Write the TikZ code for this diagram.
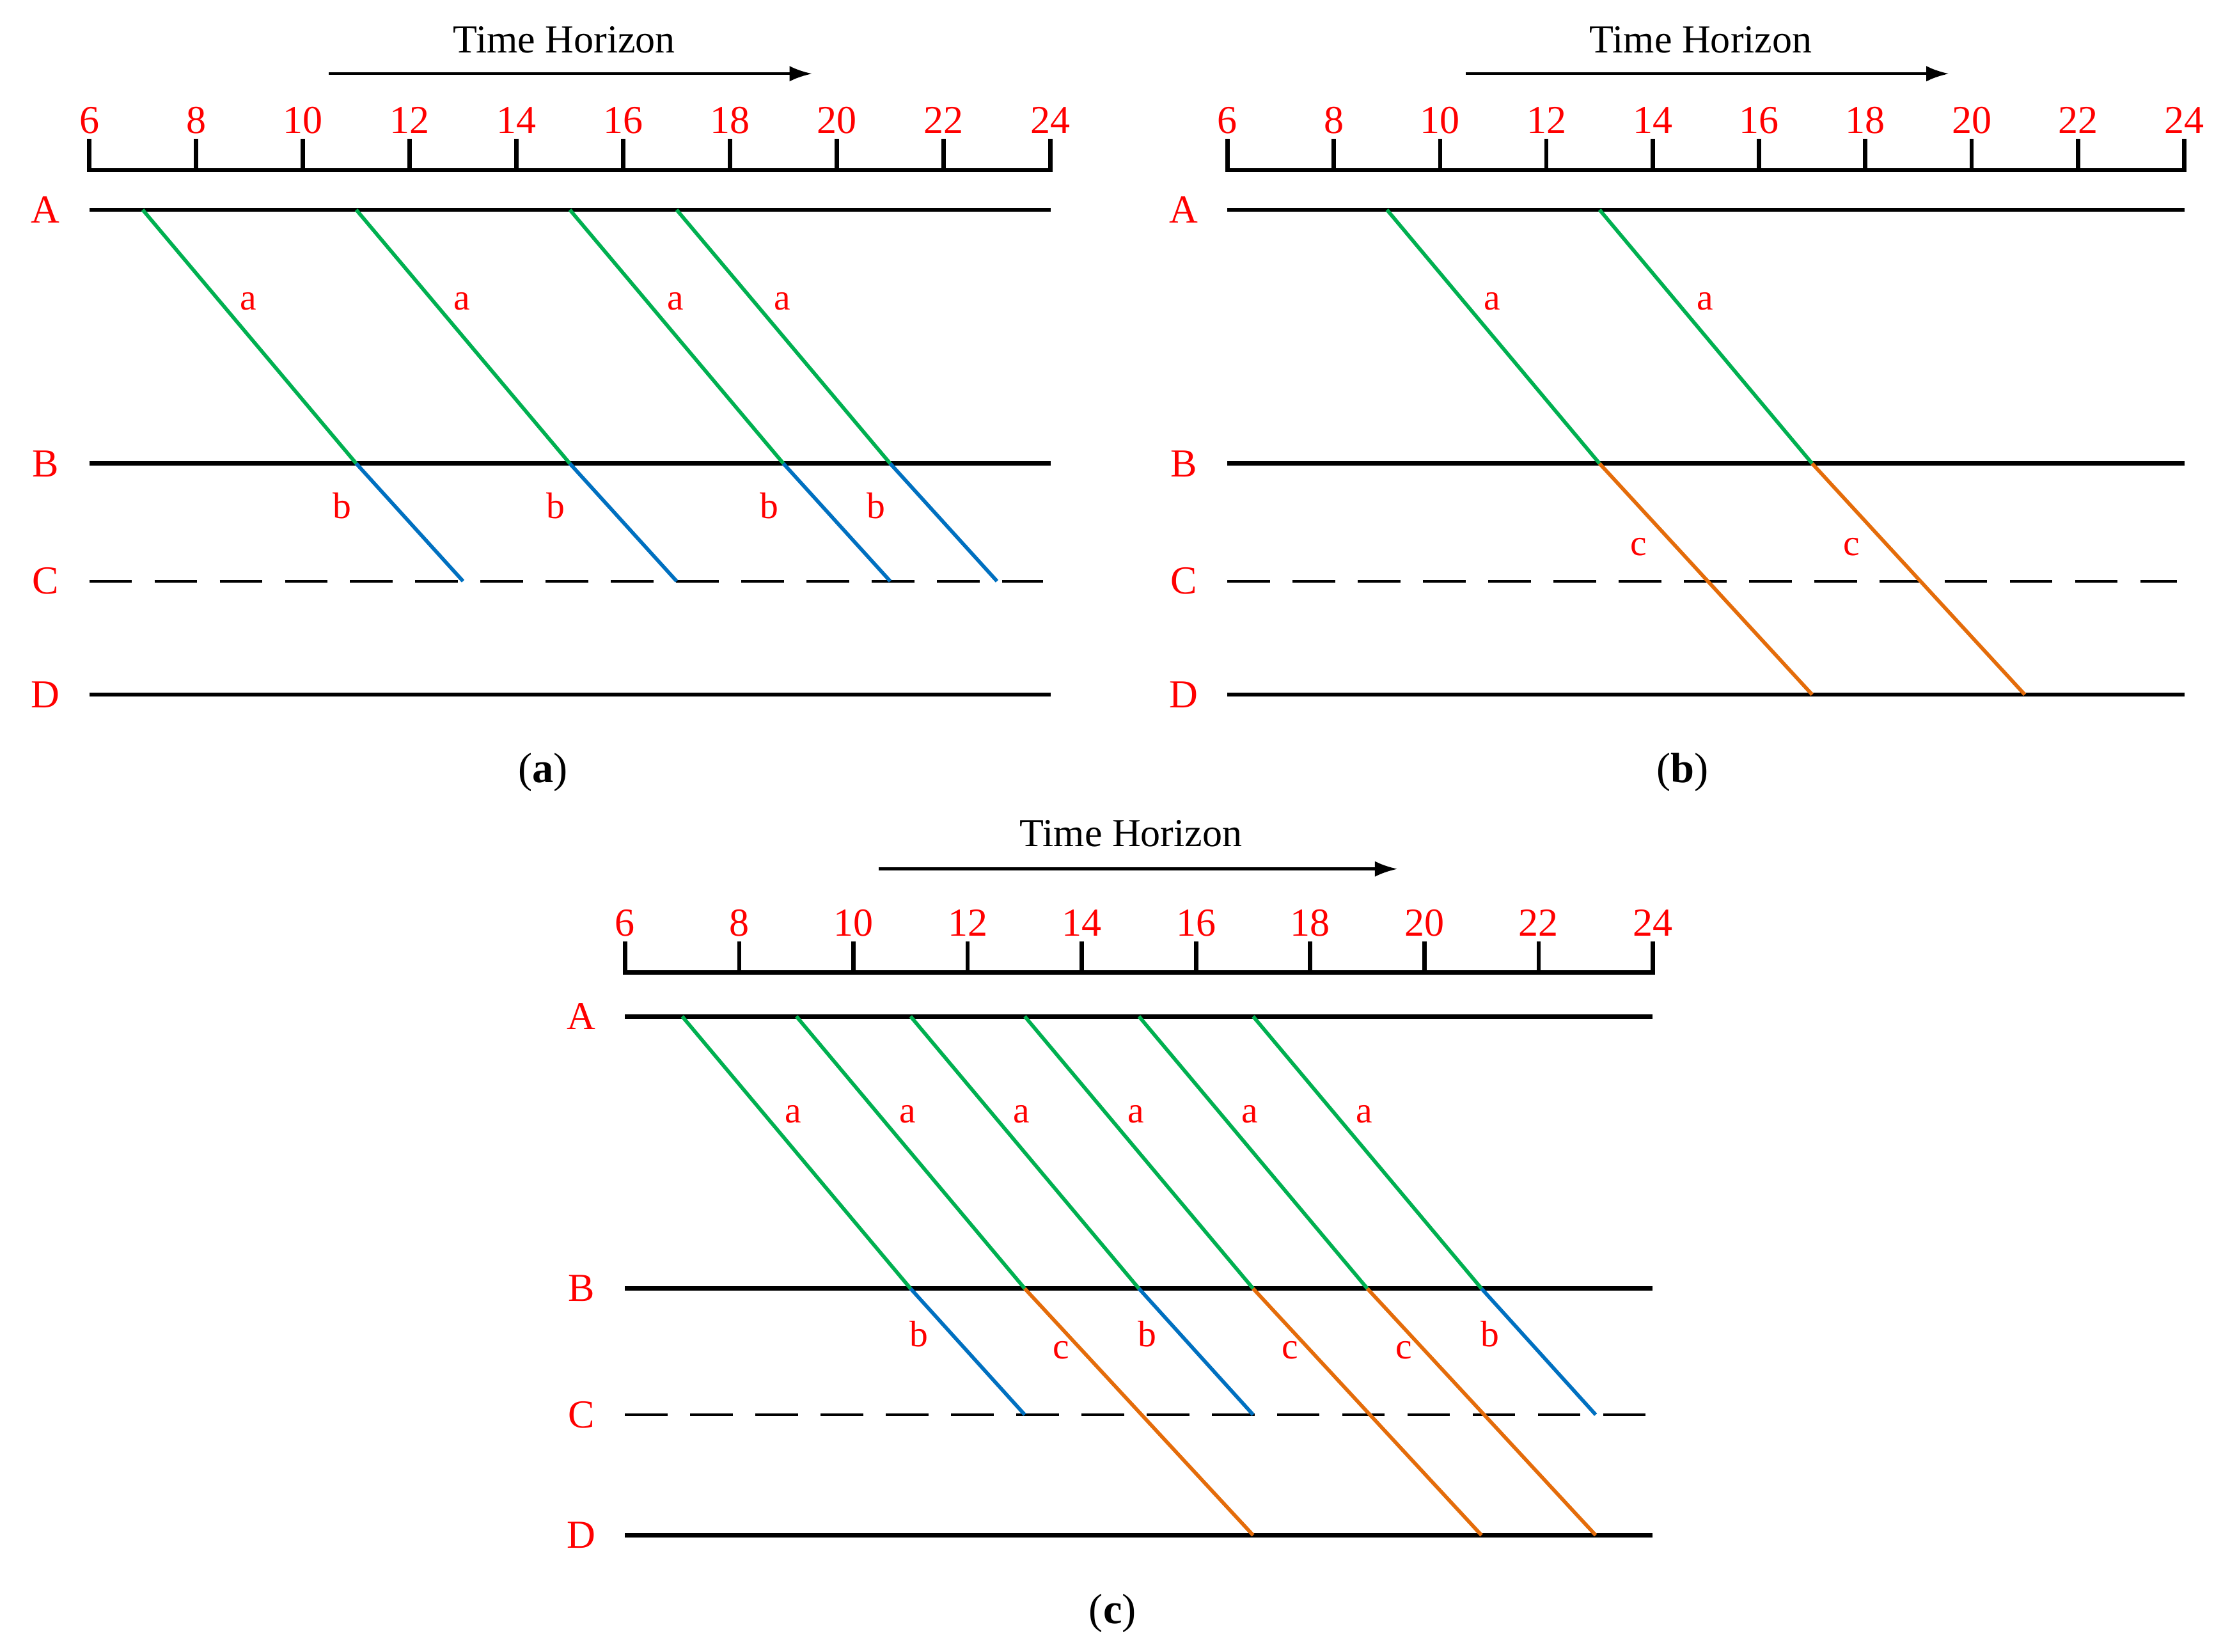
\documentclass[tikz,border=0pt]{standalone}
\usepackage{fontspec}
\setmainfont{Liberation Serif}
\usetikzlibrary{arrows.meta}
\definecolor{gr}{RGB}{0,176,80}
\definecolor{bl}{RGB}{0,112,192}
\definecolor{orr}{RGB}{228,108,10}
\tikzset{
 ln/.style={line width=3pt,black},
 dl/.style={line width=2pt,black,dash pattern=on 30pt off 16pt},
 red/.style={text=red,font=\fontsize{28}{32}\selectfont},
 lab/.style={text=red,font=\fontsize{26}{30}\selectfont},
 ga/.style={line width=2.6pt,gr},
 gb/.style={line width=2.6pt,bl},
 gc/.style={line width=2.6pt,orr},
 captn/.style={font=\fontsize{30}{34}\selectfont},
}
\newcommand\mypanel[8]{%
 \def\xo{#2}\def\ux{#3}%
 \draw[ln] (#2,#4-22) -- (#2,#4) -- ({#2+18*#3},#4) -- ({#2+18*#3},#4-22);
 \foreach \h in {6,8,...,24}{\draw[ln] ({#2+(\h-6)*#3},#4) -- ({#2+(\h-6)*#3},#4-22);
   \node[red] (#1t\h) at ({#2+(\h-6)*#3},#4-35) {\h};}
 \draw[ln] (#2,#5) -- ({#2+18*#3},#5);
 \draw[ln] (#2,#6) -- ({#2+18*#3},#6);
 \draw[dl] (#2,#7) -- ({#2+18*#3-5},#7);
 \draw[ln] (#2,#8) -- ({#2+18*#3},#8);
 \node[red] (#1A) at (#2-31,#5) {A};
 \node[red] (#1B) at (#2-31,#6) {B};
 \node[red] (#1C) at (#2-31,#7) {C};
 \node[red] (#1D) at (#2-31,#8) {D};
}
\newcommand\lk[7]{%
 \coordinate (p1) at ({\xo+(#2-6)*\ux},#3);
 \coordinate (p2) at ({\xo+(#4-6)*\ux},#5);
 \draw[#1] (p1) -- (p2) node[lab,pos=0.36,#7] {#6};
}
\begin{document}
\begin{tikzpicture}[x=1pt,y=-1pt]
\useasboundingbox (0,0) rectangle (1562,1165);
% (a)
\mypanel{a}{63}{37.67}{120}{148}{327}{410}{490}
\foreach \s in {7,11,15,17}{
 \pgfmathsetmacro\e{\s+4}\pgfmathsetmacro\f{\s+6}
 \lk{ga}{\s}{148}{\e}{327}{a}{right=10pt}
 \lk{gb}{\e}{327}{\f}{410}{b}{left=26pt}}
\node[font=\fontsize{28}{32}\selectfont] (ath) at (398,28) {Time Horizon};
\coordinate (aa1) at (232,52); \coordinate (aa2) at (573,52);
\draw[line width=2pt,-{Latex[length=16pt,width=11pt]}] (aa1) -- (aa2);
\node[captn] (acap) at (383,545) {(\textbf{a})};
% (b)
\mypanel{b}{866}{37.5}{120}{148}{327}{410}{490}
\foreach \s in {9,13}{
 \pgfmathsetmacro\e{\s+4}\pgfmathsetmacro\f{\s+8}
 \lk{ga}{\s}{148}{\e}{327}{a}{right=10pt}
 \draw[gc] ({\xo+(\e-6)*\ux},327) -- ({\xo+(\f-6)*\ux},490) node[lab,pos=0.36,left=16pt] {c};}
\node[font=\fontsize{28}{32}\selectfont] (bth) at (1200,28) {Time Horizon};
\coordinate (ba1) at (1034,52); \coordinate (ba2) at (1375,52);
\draw[line width=2pt,-{Latex[length=16pt,width=11pt]}] (ba1) -- (ba2);
\node[captn] (bcap) at (1187,545) {(\textbf{b})};
% (c)
\mypanel{c}{441}{40.28}{686}{717}{909}{998}{1083}
\foreach \s in {7,9,...,17}{
 \pgfmathsetmacro\e{\s+4}
 \lk{ga}{\s}{717}{\e}{909}{a}{right=10pt}}
\lk{gb}{11}{909}{13}{998}{b}{left=12pt}
\lk{gb}{15}{909}{17}{998}{b}{left=12pt}
\lk{gb}{21}{909}{23}{998}{b}{left=12pt}
\draw[gc] ({\xo+7*\ux},909) -- ({\xo+11*\ux},1083) node[lab,pos=0.25,left=4pt] {c};
\draw[gc] ({\xo+11*\ux},909) -- ({\xo+15*\ux},1083) node[lab,pos=0.25,left=4pt] {c};
\draw[gc] ({\xo+13*\ux},909) -- ({\xo+17*\ux},1083) node[lab,pos=0.25,left=4pt] {c};
\node[font=\fontsize{28}{32}\selectfont] (cth) at (798,588) {Time Horizon};
\coordinate (ca1) at (620,613); \coordinate (ca2) at (986,613);
\draw[line width=2pt,-{Latex[length=16pt,width=11pt]}] (ca1) -- (ca2);
\node[captn] (ccap) at (785,1138) {(\textbf{c})};
\end{tikzpicture}
\end{document}
